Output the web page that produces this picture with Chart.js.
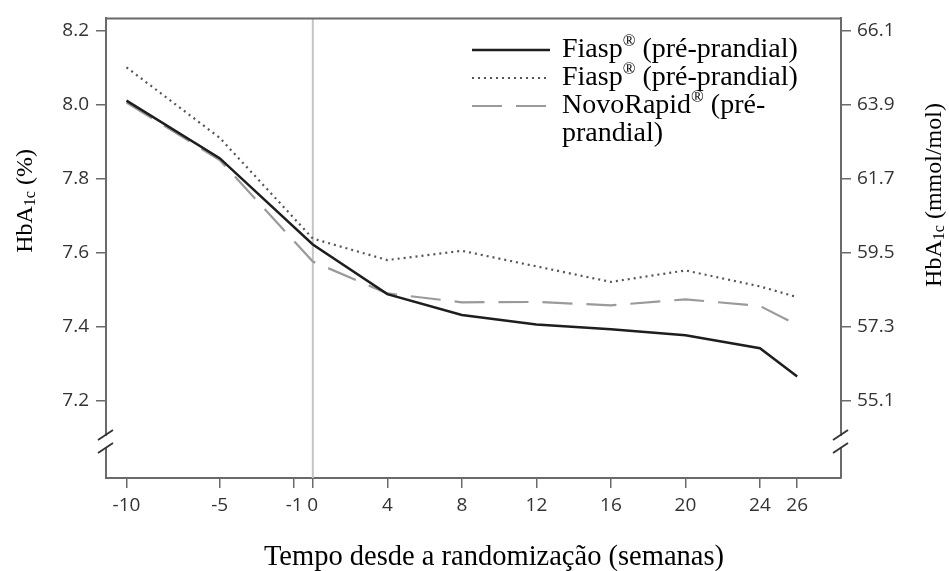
<!DOCTYPE html>
<html>
<head>
<meta charset="utf-8">
<script src="https://cdn.jsdelivr.net/npm/chart.js@4.4.1/dist/chart.umd.min.js"></script>
<style>
  html, body { margin: 0; padding: 0; background: #fff; }
  #wrap { width: 949px; height: 571px; }
</style>
</head>
<body>
<div id="wrap"><canvas id="myChart"></canvas></div>
<script>
// weeks since randomisation
const weeks = [-10, -5, 0, 4, 8, 12, 16, 20, 24, 26];

// HbA1c (%)
const fiaspSolid  = [8.010, 7.855, 7.622, 7.488, 7.432, 7.406, 7.393, 7.377, 7.342, 7.266];
const fiaspDotted = [8.100, 7.910, 7.638, 7.580, 7.605, 7.563, 7.521, 7.552, 7.509, 7.480];
const novoRapid   = [8.005, 7.850, 7.576, 7.490, 7.466, 7.467, 7.458, 7.474, 7.456, 7.405];

const seriesNames = [
  ['Fiasp® (pré-prandial)'],
  ['Fiasp® (pré-prandial)'],
  ['NovoRapid® (pré-', 'prandial)']
];

const xTicks = [-10, -5, -1, 0, 4, 8, 12, 16, 20, 24, 26];
const yTicks = [7.2, 7.4, 7.6, 7.8, 8.0, 8.2];
const mmolTicks = [55.1, 57.3, 59.5, 61.7, 63.9, 66.1];

const toMmol = v => 66.1 + (v - 8.2) * 11;

const yMin = 6.992, yMax = 8.232;
const axisColor = '#6a6a6a';
const tickFont = { family: 'Open Sans', size: 19 };
const serif = 'Liberation Serif';

const pts = vals => weeks.map((w, i) => ({ x: w, y: vals[i] }));

// draws text made of pieces (superscript / subscript), centred or left aligned
function drawParts(ctx, parts, x, y, align) {
  let w = 0;
  parts.forEach(p => { ctx.font = p.size + 'px "' + serif + '"'; w += ctx.measureText(p.t).width; });
  let cx = align === 'center' ? x - w / 2 : x;
  ctx.textAlign = 'left';
  ctx.textBaseline = 'alphabetic';
  parts.forEach(p => {
    ctx.font = p.size + 'px "' + serif + '"';
    ctx.fillText(p.t, cx, y + (p.dy || 0));
    cx += ctx.measureText(p.t).width;
  });
}

function richParts(text, size) {
  const out = [];
  text.split('®').forEach((s, i, arr) => {
    if (s) out.push({ t: s, size: size });
    if (i < arr.length - 1) out.push({ t: '®', size: size * 0.6, dy: -size * 0.38 });
  });
  return out;
}

const extras = {
  id: 'extras',
  beforeDatasetsDraw(chart) {
    const { ctx, chartArea: a, scales } = chart;
    // vertical reference line at week 0
    const x0 = scales.x.getPixelForValue(0);
    ctx.save();
    ctx.strokeStyle = '#c4c4c4';
    ctx.lineWidth = 2;
    ctx.beginPath();
    ctx.moveTo(x0, a.top);
    ctx.lineTo(x0, a.bottom);
    ctx.stroke();
    ctx.restore();
  },
  afterDraw(chart) {
    const { ctx, chartArea: a, scales } = chart;
    ctx.save();
    // top frame line
    ctx.strokeStyle = axisColor;
    ctx.lineWidth = 2;
    ctx.beginPath();
    ctx.moveTo(a.left, a.top);
    ctx.lineTo(a.right, a.top);
    ctx.stroke();

    // axis breaks
    const yb1 = scales.y.getPixelForValue(7.108);
    const yb2 = scales.y.getPixelForValue(7.073);
    [a.left, a.right].forEach(xa => {
      ctx.fillStyle = '#fff';
      ctx.fillRect(xa - 3, yb1 + 1, 6, yb2 - yb1 - 2);
      ctx.strokeStyle = '#333';
      ctx.lineWidth = 1.8;
      [yb1, yb2].forEach(yb => {
        ctx.beginPath();
        ctx.moveTo(xa - 8, yb + 5);
        ctx.lineTo(xa + 7, yb - 5);
        ctx.stroke();
      });
    });

    // axis titles
    ctx.fillStyle = '#000';
    drawParts(ctx, [{ t: 'Tempo desde a randomização (semanas)', size: 28.5 }], 494, 565, 'center');

    ctx.save();
    ctx.translate(32, 201);
    ctx.rotate(-Math.PI / 2);
    drawParts(ctx, [
      { t: 'HbA', size: 24 }, { t: '1c', size: 16, dy: 3 }, { t: ' (%)', size: 24 }
    ], 0, 0, 'center');
    ctx.restore();

    ctx.save();
    ctx.translate(941, 195);
    ctx.rotate(-Math.PI / 2);
    drawParts(ctx, [
      { t: 'HbA', size: 24 }, { t: '1c', size: 16, dy: 3 }, { t: ' (mmol/mol)', size: 24 }
    ], 0, 0, 'center');
    ctx.restore();

    // legend
    let base = 57;
    chart.data.datasets.forEach((ds, i) => {
      ctx.strokeStyle = ds.borderColor;
      ctx.lineWidth = ds.borderWidth;
      ctx.setLineDash(ds.borderDash || []);
      ctx.beginPath();
      ctx.moveTo(472, base - 7);
      ctx.lineTo(550, base - 7);
      ctx.stroke();
      ctx.setLineDash([]);
      ctx.fillStyle = '#000';
      seriesNames[i].forEach(line => {
        drawParts(ctx, richParts(line, 28), 562, base, 'left');
        base += 28;
      });
    });
    ctx.restore();
  }
};

new Chart(document.getElementById('myChart'), {
  type: 'line',
  data: {
    datasets: [{
      label: seriesNames[0].join(' '),
      data: pts(fiaspSolid),
      borderColor: '#1e1e1e',
      borderWidth: 2.5,
      order: 1
    }, {
      label: seriesNames[1].join(' '),
      data: pts(fiaspDotted),
      borderColor: '#555',
      borderWidth: 2.2,
      borderDash: [2, 4],
      order: 2
    }, {
      label: seriesNames[2].join(' '),
      data: pts(novoRapid),
      borderColor: '#9a9a9a',
      borderWidth: 2.2,
      borderDash: [30, 14],
      order: 3
    }]
  },
  options: {
    responsive: true,
    maintainAspectRatio: false,
    animation: false,
    layout: { padding: { top: 15, left: 0, right: 0, bottom: 0 } },
    elements: { point: { radius: 0 }, line: { tension: 0 } },
    plugins: { legend: { display: false }, tooltip: { enabled: false } },
    scales: {
      x: {
        type: 'linear',
        min: -11.1,
        max: 28.35,
        afterBuildTicks: s => { s.ticks = xTicks.map(v => ({ value: v })); },
        afterFit: s => { s.height = 93; },
        border: { display: true, color: axisColor, width: 2 },
        grid: { drawOnChartArea: false, drawTicks: true, tickLength: 10, color: axisColor, lineWidth: 1.5 },
        ticks: { autoSkip: false, maxRotation: 0, padding: 6, color: '#333', font: tickFont,
                 callback: v => String(v) }
      },
      y: {
        position: 'left',
        min: yMin,
        max: yMax,
        afterBuildTicks: s => { s.ticks = yTicks.map(v => ({ value: v })); },
        afterFit: s => { s.width = 106; },
        border: { display: true, color: axisColor, width: 2 },
        grid: { drawOnChartArea: false, drawTicks: true, tickLength: 10, color: axisColor, lineWidth: 1.5 },
        ticks: { padding: 7, color: '#333', font: tickFont, callback: v => v.toFixed(1) }
      },
      y2: {
        position: 'right',
        min: toMmol(yMin),
        max: toMmol(yMax),
        afterBuildTicks: s => { s.ticks = mmolTicks.map(v => ({ value: v })); },
        afterFit: s => { s.width = 108; },
        border: { display: true, color: axisColor, width: 2 },
        grid: { drawOnChartArea: false, drawTicks: true, tickLength: 10, color: axisColor, lineWidth: 1.5 },
        ticks: { padding: 6, color: '#333', font: tickFont, callback: v => v.toFixed(1) }
      }
    }
  },
  plugins: [extras]
});
</script>
</body>
</html>
